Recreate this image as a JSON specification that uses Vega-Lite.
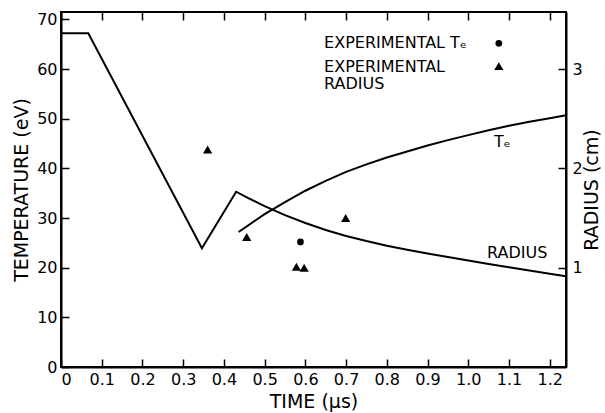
{
  "$schema": "https://vega.github.io/schema/vega-lite/v6.json",
  "width": 505,
  "height": 355,
  "autosize": "none",
  "padding": {"left": 61, "top": 12, "right": 39, "bottom": 46},
  "background": "white",
  "config": {
    "font": "DejaVu Sans",
    "view": {"stroke": "black", "strokeWidth": 2},
    "axis": {
      "grid": false,
      "domainColor": "black",
      "domainWidth": 2,
      "tickColor": "black",
      "tickWidth": 1.5,
      "tickSize": -8,
      "labelColor": "black",
      "titleColor": "black",
      "labelFont": "DejaVu Sans",
      "titleFont": "DejaVu Sans",
      "labelFontSize": 16,
      "titleFontSize": 19,
      "titleFontWeight": "normal",
      "labelPadding": 12
    }
  },
  "datasets": {
    "radiusModel": [
      {"time": 0.0, "radius": 3.36},
      {"time": 0.067, "radius": 3.36},
      {"time": 0.346, "radius": 1.195},
      {"time": 0.43, "radius": 1.765},
      {"time": 0.46, "radius": 1.7},
      {"time": 0.5, "radius": 1.62},
      {"time": 0.55, "radius": 1.53},
      {"time": 0.6, "radius": 1.45},
      {"time": 0.65, "radius": 1.38},
      {"time": 0.7, "radius": 1.32},
      {"time": 0.75, "radius": 1.268},
      {"time": 0.8, "radius": 1.222},
      {"time": 0.85, "radius": 1.181},
      {"time": 0.9, "radius": 1.143},
      {"time": 0.95, "radius": 1.107},
      {"time": 1.0, "radius": 1.072},
      {"time": 1.05, "radius": 1.038},
      {"time": 1.1, "radius": 1.005},
      {"time": 1.15, "radius": 0.972},
      {"time": 1.2, "radius": 0.94},
      {"time": 1.24, "radius": 0.915}
    ],
    "teModel": [
      {"time": 0.436, "te": 27.2},
      {"time": 0.5, "te": 30.8},
      {"time": 0.55, "te": 33.2},
      {"time": 0.6, "te": 35.5},
      {"time": 0.65, "te": 37.5},
      {"time": 0.7, "te": 39.3},
      {"time": 0.75, "te": 40.8},
      {"time": 0.8, "te": 42.2},
      {"time": 0.85, "te": 43.4},
      {"time": 0.9, "te": 44.6},
      {"time": 0.95, "te": 45.7},
      {"time": 1.0, "te": 46.7},
      {"time": 1.05, "te": 47.7},
      {"time": 1.1, "te": 48.6},
      {"time": 1.15, "te": 49.4},
      {"time": 1.2, "te": 50.1},
      {"time": 1.24, "te": 50.7}
    ],
    "teMeasured": [
      {"time": 0.588, "te": 25.2}
    ],
    "radiusMeasured": [
      {"time": 0.36, "radius": 2.19},
      {"time": 0.456, "radius": 1.31},
      {"time": 0.578, "radius": 1.01},
      {"time": 0.597, "radius": 1.0},
      {"time": 0.699, "radius": 1.5}
    ],
    "notes": [
      {"time": 0.646, "te": 65.2, "text": "EXPERIMENTAL Tₑ"},
      {"time": 0.646, "te": 60.5, "text": "EXPERIMENTAL"},
      {"time": 0.646, "te": 56.9, "text": "RADIUS"},
      {"time": 1.063, "te": 45.3, "text": "Tₑ"},
      {"time": 1.046, "te": 22.9, "text": "RADIUS"}
    ],
    "keySymbols": [
      {"time": 1.075, "te": 65.2, "shape": "circle", "size": 45},
      {"time": 1.075, "te": 60.6, "shape": "triangle-up", "size": 85}
    ]
  },
  "layer": [
    {
      "layer": [
        {
          "data": {"name": "teModel"},
          "mark": {"type": "line", "color": "black", "strokeWidth": 2},
          "encoding": {
            "x": {
              "field": "time",
              "type": "quantitative",
              "scale": {"domain": [0, 1.24], "nice": false, "zero": false},
              "axis": {
                "orient": "bottom",
                "values": [0, 0.1, 0.2, 0.3, 0.4, 0.5, 0.6, 0.7, 0.8, 0.9, 1.0, 1.1, 1.2],
                "labelExpr": "datum.value == 0 ? '0' : format(datum.value, '.1f')",
                "title": "TIME (μs)",
                "titlePadding": 5
              }
            },
            "y": {
              "field": "te",
              "type": "quantitative",
              "scale": {"domain": [0, 71.5], "nice": false},
              "axis": {
                "orient": "left",
                "values": [0, 10, 20, 30, 40, 50, 60, 70],
                "title": "TEMPERATURE (eV)",
                "titlePadding": 5
              }
            }
          }
        },
        {
          "data": {"name": "teMeasured"},
          "mark": {"type": "point", "shape": "circle", "filled": true, "color": "black", "size": 45, "opacity": 1},
          "encoding": {
            "x": {"field": "time", "type": "quantitative", "scale": {"domain": [0, 1.24], "nice": false, "zero": false}},
            "y": {"field": "te", "type": "quantitative", "scale": {"domain": [0, 71.5], "nice": false}}
          }
        },
        {
          "data": {"name": "keySymbols"},
          "mark": {"type": "point", "filled": true, "color": "black", "opacity": 1},
          "encoding": {
            "x": {"field": "time", "type": "quantitative", "scale": {"domain": [0, 1.24], "nice": false, "zero": false}},
            "y": {"field": "te", "type": "quantitative", "scale": {"domain": [0, 71.5], "nice": false}},
            "shape": {"field": "shape", "type": "nominal", "scale": null},
            "size": {"field": "size", "type": "quantitative", "scale": null}
          }
        },
        {
          "data": {"name": "notes"},
          "mark": {"type": "text", "align": "left", "baseline": "middle", "fontSize": 16, "font": "DejaVu Sans", "color": "black"},
          "encoding": {
            "x": {"field": "time", "type": "quantitative", "scale": {"domain": [0, 1.24], "nice": false, "zero": false}},
            "y": {"field": "te", "type": "quantitative", "scale": {"domain": [0, 71.5], "nice": false}},
            "text": {"field": "text"}
          }
        }
      ]
    },
    {
      "layer": [
        {
          "data": {"name": "radiusModel"},
          "mark": {"type": "line", "color": "black", "strokeWidth": 2},
          "encoding": {
            "x": {
              "field": "time",
              "type": "quantitative",
              "scale": {"domain": [0, 1.24], "nice": false, "zero": false},
              "axis": {
                "orient": "top",
                "values": [0, 0.1, 0.2, 0.3, 0.4, 0.5, 0.6, 0.7, 0.8, 0.9, 1.0, 1.1, 1.2],
                "labels": false,
                "domain": false,
                "title": null
              }
            },
            "y": {
              "field": "radius",
              "type": "quantitative",
              "scale": {"domain": [0, 3.575], "nice": false},
              "axis": {
                "orient": "right",
                "values": [1, 2, 3],
                "format": "d",
                "labelPadding": 14,
                "title": "RADIUS (cm)",
                "titleAngle": -90,
                "titleBaseline": "bottom",
                "titlePadding": 19
              }
            }
          }
        },
        {
          "data": {"name": "radiusMeasured"},
          "mark": {"type": "point", "shape": "triangle-up", "filled": true, "color": "black", "size": 85, "opacity": 1},
          "encoding": {
            "x": {"field": "time", "type": "quantitative", "scale": {"domain": [0, 1.24], "nice": false, "zero": false}},
            "y": {"field": "radius", "type": "quantitative", "scale": {"domain": [0, 3.575], "nice": false}}
          }
        }
      ]
    }
  ],
  "resolve": {"scale": {"y": "independent"}, "axis": {"x": "independent"}}
}
